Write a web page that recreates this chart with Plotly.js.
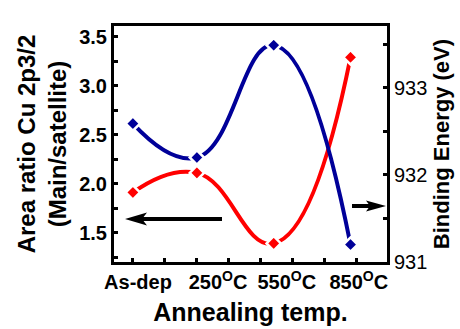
<!DOCTYPE html>
<html>
<head>
<meta charset="utf-8">
<script src="https://cdn.plot.ly/plotly-3.0.1.min.js"></script>
<style>html,body{margin:0;padding:0;background:#fff;}#chart{width:460px;height:329px;}</style>
</head>
<body>
<div id="chart"></div>
<script>
// ---- data ----
const categories = ['As-dep', '250<sup>O</sup>C', '550<sup>O</sup>C', '850<sup>O</sup>C'];
const xPositions = [0, 2, 4.4, 6.8];          // sample positions along the x axis
const labelPositions = [0.16, 2.66, 4.81, 7.06]; // where the category labels sit
const areaRatio = [1.91, 2.11, 1.39, 3.29];    // left axis, red
const bindingEnergy = [932.59, 932.20, 933.49, 931.20]; // right axis, blue

const RED = '#FF0000';
const BLUE = '#000099';
const FONT = 'Liberation Sans, Arial, sans-serif';

const W = 460, H = 329;
const M = {l: 114, r: 73, t: 26, b: 67};
const pw = W - M.l - M.r, ph = H - M.t - M.b;
const px = x => (x - M.l) / pw;
const py = y => (H - M.b - y) / ph;

function arrowShapes(tailX, tipX, y, len, half, notch) {
  const dir = tipX > tailX ? 1 : -1;
  const backX = tipX - dir * len;
  const notchX = tipX - dir * (len - notch);
  return [
    {type: 'line', xref: 'paper', yref: 'paper', x0: px(tailX), x1: px(notchX + dir * 1), y0: py(y), y1: py(y),
     line: {color: 'black', width: 4}},
    {type: 'path', xref: 'paper', yref: 'paper',
     path: `M${px(tipX)},${py(y)} L${px(backX)},${py(y - half)} L${px(notchX)},${py(y)} L${px(backX)},${py(y + half)} Z`,
     fillcolor: 'black', line: {width: 0}}
  ];
}

const traces = [
  {x: xPositions, y: areaRatio, type: 'scatter', mode: 'lines+markers', yaxis: 'y',
   line: {color: RED, width: 4, shape: 'spline', smoothing: 1.3},
   marker: {symbol: 'diamond', size: 11, color: RED, line: {color: 'white', width: 2.5}}},
  {x: xPositions, y: bindingEnergy, type: 'scatter', mode: 'lines+markers', yaxis: 'y2',
   line: {color: BLUE, width: 4, shape: 'spline', smoothing: 1.3},
   marker: {symbol: 'diamond', size: 11, color: BLUE, line: {color: 'white', width: 2.5}}}
];

const layout = {
  width: W, height: H,
  margin: M,
  showlegend: false,
  paper_bgcolor: 'white', plot_bgcolor: 'white',
  font: {family: FONT, color: 'black'},
  xaxis: {
    range: [-0.59, 7.94], showgrid: false, zeroline: false,
    showline: true, mirror: true, linewidth: 3, linecolor: 'black',
    tickmode: 'array', tickvals: labelPositions, ticktext: categories, ticks: '',
    tickfont: {family: FONT, size: 20, weight: 'bold', color: 'black'},
    minor: {tickmode: 'linear', tick0: 0, dtick: 1, ticks: 'inside', ticklen: 4, tickwidth: 3, tickcolor: 'black', showgrid: false},
    title: {text: 'Annealing temp.', font: {family: FONT, size: 25, weight: 'bold', color: 'black'}, standoff: 12}
  },
  yaxis: {
    range: [1.2, 3.61], showgrid: false, zeroline: false,
    showline: true, linewidth: 3, linecolor: 'black',
    tick0: 0, dtick: 0.5, tickformat: '.1f',
    ticks: 'inside', ticklen: 4, tickwidth: 3, tickcolor: 'black',
    minor: {dtick: 0.25, ticks: 'inside', ticklen: 4, tickwidth: 3, tickcolor: 'black', showgrid: false},
    tickfont: {family: FONT, size: 20, weight: 'bold', color: 'black'},
    title: {text: 'Area ratio Cu 2p3/2<br>(Main/satellite)', font: {family: FONT, size: 24, weight: 'bold', color: 'black'}, standoff: 6}
  },
  yaxis2: {
    overlaying: 'y', side: 'right', anchor: 'x',
    range: [931, 933.71], showgrid: false, zeroline: false,
    showline: true, linewidth: 3, linecolor: 'black',
    tick0: 931, dtick: 1,
    ticks: 'inside', ticklen: 4, tickwidth: 3, tickcolor: 'black',
    minor: {dtick: 0.5, ticks: 'inside', ticklen: 4, tickwidth: 3, tickcolor: 'black', showgrid: false},
    tickfont: {family: FONT, size: 20, color: 'black'},
    title: {text: 'Binding Energy (eV)', font: {family: FONT, size: 22, weight: 'bold', color: 'black'}, standoff: 8}
  },
  shapes: [
    ...arrowShapes(222, 125, 219, 22, 6.5, 5),
    ...arrowShapes(352, 386, 206, 20, 5.5, 4)
  ]
};

Plotly.newPlot('chart', traces, layout, {staticPlot: true, displayModeBar: false});
</script>
</body>
</html>
